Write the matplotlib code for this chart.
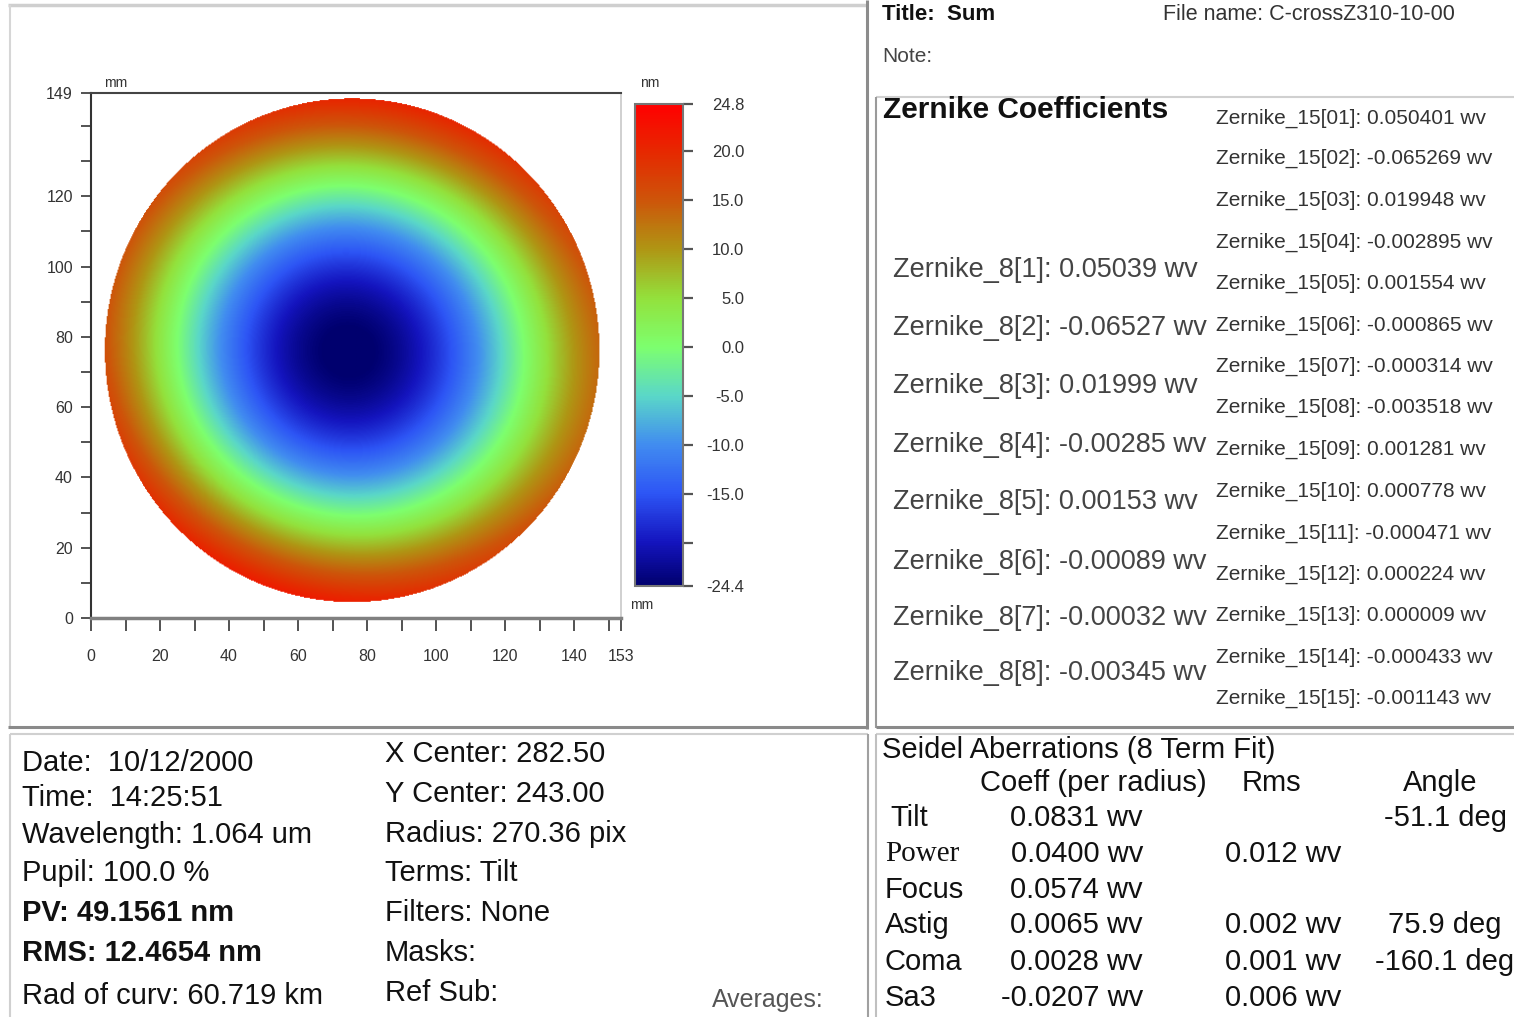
import numpy as np
import matplotlib
matplotlib.use("Agg")
import matplotlib.pyplot as plt
from matplotlib.colors import LinearSegmentedColormap
from matplotlib.ticker import FixedLocator

# report values
wavelength_nm = 1064.0
zernike8 = [0.05039, -0.06527, 0.01999, -0.00285, 0.00153, -0.00089, -0.00032, -0.00345]
zernike15 = [0.050401, -0.065269, 0.019948, -0.002895, 0.001554, -0.000865, -0.000314,
             -0.003518, 0.001281, 0.000778, -0.000471, 0.000224, 0.000009, -0.000433, -0.001143]

# map geometry (mm)
x_extent = 153.6
y_extent = 149.4
pupil_cx, pupil_cy = 75.7, 76.2
pupil_r = 71.8

x_major = [0, 20, 40, 60, 80, 100, 120, 140, 153.6]
x_labels = ["0", "20", "40", "60", "80", "100", "120", "140", "153"]
x_minor = [10, 30, 50, 70, 90, 110, 130, 150]
y_major = [0, 20, 40, 60, 80, 100, 120, 149.4]
y_labels = ["0", "20", "40", "60", "80", "100", "120", "149"]
y_minor = [10, 30, 50, 70, 90, 110, 130, 140]

cbar_min, cbar_max = -24.4, 24.8
cbar_ticks = [24.8, 20.0, 15.0, 10.0, 5.0, 0.0, -5.0, -10.0, -15.0, -20.0, -24.4]
cbar_labels = ["24.8", "20.0", "15.0", "10.0", "5.0", "0.0", "-5.0", "-10.0", "-15.0", "", "-24.4"]

cmap_values = [-24.4, -20, -15, -10, -5, 0, 5, 10, 15, 20, 24.8]
cmap_colors = ["#00006e", "#1414be", "#2d55f5", "#418cf0", "#5ad7c8", "#7dff6e",
               "#93e13c", "#af9614", "#cd550a", "#e62800", "#ff0000"]

info_left = ["Date:  10/12/2000", "Time:  14:25:51", "Wavelength: 1.064 um", "Pupil: 100.0 %",
             "PV: 49.1561 nm", "RMS: 12.4654 nm", "Rad of curv: 60.719 km"]
info_left_bold = [False, False, False, False, True, True, False]
info_right = ["X Center: 282.50", "Y Center: 243.00", "Radius: 270.36 pix", "Terms: Tilt",
              "Filters: None", "Masks:", "Ref Sub:"]

seidel_names = ["Tilt", "Power", "Focus", "Astig", "Coma", "Sa3"]
seidel_coeff = ["0.0831 wv", "0.0400 wv", "0.0574 wv", "0.0065 wv", "0.0028 wv", "-0.0207 wv"]
seidel_rms = ["", "0.012 wv", "", "0.002 wv", "0.001 wv", "0.006 wv"]
seidel_angle = ["-51.1 deg", "", "", "75.9 deg", "-160.1 deg", ""]

W, H = 1514, 1017
SANS = "Liberation Sans"
SERIF = "Liberation Serif"

# surface from the 8 term fit, tilt removed ("Terms: Tilt")
xs = np.linspace(0, x_extent, 540)
ys = np.linspace(0, y_extent, 520)
X, Y = np.meshgrid(xs, ys)
u = (X - pupil_cx) / pupil_r
v = (Y - pupil_cy) / pupil_r
rho2 = u**2 + v**2
rho = np.sqrt(rho2)
theta = np.arctan2(v, u)
terms = [
    2 * rho2 - 1,
    rho2 * np.cos(2 * theta),
    rho2 * np.sin(2 * theta),
    (3 * rho2 - 2) * rho * np.cos(theta),
    (3 * rho2 - 2) * rho * np.sin(theta),
    6 * rho2**2 - 6 * rho2 + 1,
]
surface = sum(c * t for c, t in zip(zernike8[2:], terms)) * wavelength_nm
surface[rho > 1] = np.nan

pos = [(val - cbar_min) / (cbar_max - cbar_min) for val in cmap_values]
cmap = LinearSegmentedColormap.from_list("map", list(zip(pos, cmap_colors)))
cmap.set_bad("white")

fig = plt.figure(figsize=(W / 100, H / 100), dpi=100)
fig.patch.set_facecolor("white")

# background layer in pixel coordinates for the report text and frames
bg = fig.add_axes([0, 0, 1, 1])
bg.set_xlim(0, W)
bg.set_ylim(H, 0)
bg.axis("off")


def hline(x0, x1, y, color, lw):
    bg.plot([x0, x1], [y, y], color=color, lw=lw, solid_capstyle="butt")


def vline(x, y0, y1, color, lw):
    bg.plot([x, x], [y0, y1], color=color, lw=lw, solid_capstyle="butt")


# frames
hline(8, 867, 5, "#cfcfcf", 2.5)
vline(10, 5, 727, "#d6d6d6", 1.5)
vline(867, 0, 729, "#8c8c8c", 2.2)
hline(8, 868, 727, "#8a8a8a", 2.2)
hline(10, 868, 734, "#d0d0d0", 1.5)
vline(10, 734, H, "#d0d0d0", 1.5)
vline(868, 734, H, "#a0a0a0", 1.5)
hline(876, W, 97, "#d0d0d0", 1.5)
vline(876, 97, 728, "#9a9a9a", 1.5)
hline(876, W, 727, "#8a8a8a", 2.2)
hline(876, W, 734, "#d0d0d0", 1.5)
vline(876, 734, H, "#c0c0c0", 1.5)

# header
bg.text(882, 15, "Title:  Sum", fontsize=16, fontweight="bold", family=SANS, va="center", color="#111")
bg.text(1163, 15, "File name: C-crossZ310-10-00", fontsize=15.5, family=SANS, va="center", color="#333")
bg.text(882, 57, "Note:", fontsize=15, family=SANS, va="center", color="#444")

# zernike coefficients
bg.text(883, 110, "Zernike Coefficients", fontsize=21.5, fontweight="bold", family=SANS,
        va="center", color="#111")
z8_y = [270, 328, 386, 445, 502, 562, 618, 673]
for i, (val, yy) in enumerate(zip(zernike8, z8_y), start=1):
    bg.text(893, yy, f"Zernike_8[{i}]: {val:.5f} wv", fontsize=19.5, family=SANS,
            va="center", color="#444")
z15_y = [118, 158, 200, 242, 283, 325, 366, 407, 449, 491, 533, 574, 615, 657, 698]
for i, (val, yy) in enumerate(zip(zernike15, z15_y), start=1):
    bg.text(1216, yy, f"Zernike_15[{i:02d}]: {val:.6f} wv", fontsize=15, family=SANS,
            va="center", color="#333")

# measurement info
left_y = [763, 798, 835, 873, 913, 953, 996]
for s, b, yy in zip(info_left, info_left_bold, left_y):
    bg.text(22, yy, s, fontsize=21, family=SANS, fontweight="bold" if b else "normal",
            va="center", color="#111")
right_y = [754, 794, 834, 873, 913, 953, 993]
for s, yy in zip(info_right, right_y):
    bg.text(385, yy, s, fontsize=21, family=SANS, va="center", color="#111")
bg.text(712, 1000, "Averages:", fontsize=18, family=SANS, va="center", color="#555")

# seidel table
bg.text(882, 750, "Seidel Aberrations (8 Term Fit)", fontsize=21, family=SANS, va="center", color="#111")
bg.text(980, 783, "Coeff (per radius)", fontsize=21, family=SANS, va="center", color="#111")
bg.text(1242, 783, "Rms", fontsize=21, family=SANS, va="center", color="#111")
bg.text(1440, 783, "Angle", fontsize=21, family=SANS, va="center", ha="center", color="#111")
row_y = [818, 854, 890, 925, 962, 998]
for name, co, rm, an, yy in zip(seidel_names, seidel_coeff, seidel_rms, seidel_angle, row_y):
    fam = SERIF if name == "Power" else SANS
    bg.text(890 if name == "Tilt" else 885, yy, name, fontsize=21, family=fam, va="center", color="#111")
    bg.text(1143, yy, co, fontsize=21, family=SANS, va="center", ha="right", color="#111")
    if rm:
        bg.text(1341, yy, rm, fontsize=21, family=SANS, va="center", ha="right", color="#111")
    if an:
        bg.text(1445, yy, an, fontsize=21, family=SANS, va="center", ha="center", color="#111")

# surface map
ax = fig.add_axes([91 / W, 1 - 618 / H, 530 / W, 525 / H])
im = ax.imshow(surface, extent=[0, x_extent, 0, y_extent], origin="lower", cmap=cmap,
               vmin=cbar_min, vmax=cbar_max, aspect="auto", interpolation="bilinear")
ax.set_xlim(0, x_extent)
ax.set_ylim(0, y_extent)
ax.xaxis.set_major_locator(FixedLocator(x_major))
ax.xaxis.set_minor_locator(FixedLocator(x_minor))
ax.yaxis.set_major_locator(FixedLocator(y_major))
ax.yaxis.set_minor_locator(FixedLocator(y_minor))
ax.set_xticklabels(x_labels)
ax.set_yticklabels(y_labels)
ax.tick_params(which="both", direction="out", color="#444", width=1.3, labelsize=11.5,
               labelcolor="#333")
ax.tick_params(axis="x", which="both", length=9, pad=13)
ax.tick_params(axis="y", which="both", length=7, pad=6)
for lbl in ax.get_xticklabels() + ax.get_yticklabels():
    lbl.set_family(SANS)
ax.spines["left"].set_color("#333")
ax.spines["left"].set_linewidth(1.5)
ax.spines["top"].set_color("#444")
ax.spines["top"].set_linewidth(1.5)
ax.spines["right"].set_color("#c8c8c8")
ax.spines["right"].set_linewidth(1.2)
ax.spines["bottom"].set_color("#808080")
ax.spines["bottom"].set_linewidth(2.5)
ax.text(0.025, 1.005, "mm", transform=ax.transAxes, fontsize=10, family=SANS, color="#333",
        va="bottom")

# color bar
cax = fig.add_axes([635 / W, 1 - 586 / H, 48 / W, 482 / H])
cb = fig.colorbar(im, cax=cax, ticks=cbar_ticks)
cb.set_ticklabels(cbar_labels)
cb.outline.set_edgecolor("#777")
cb.outline.set_linewidth(1.5)
cax.tick_params(direction="out", length=7, width=1.6, color="#555", labelsize=12,
                labelcolor="#333", pad=37)
for lbl in cax.get_yticklabels():
    lbl.set_horizontalalignment("right")
    lbl.set_family(SANS)
cax.text(0.1, 1.03, "nm", transform=cax.transAxes, fontsize=10, family=SANS, color="#333",
         va="bottom")
cax.text(-0.1, -0.025, "mm", transform=cax.transAxes, fontsize=10, family=SANS, color="#333",
         va="top")

fig.savefig("out.png", dpi=100)
